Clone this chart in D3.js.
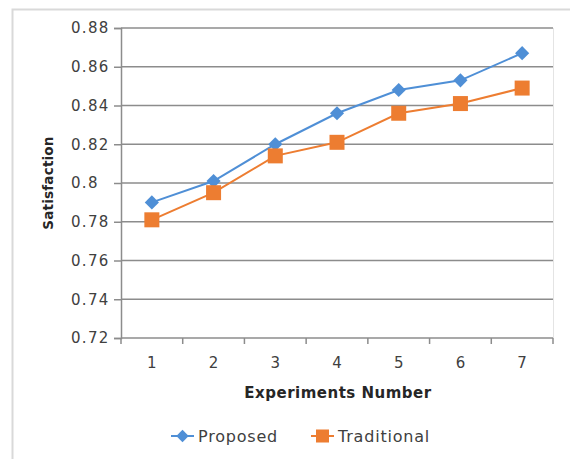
<!DOCTYPE html>
<html>
<head>
<meta charset="utf-8">
<script src="https://cdn.jsdelivr.net/npm/d3@7"></script>
<style>
  html, body { margin: 0; padding: 0; background: #fff; }
  svg { display: block; font-family: "DejaVu Sans", sans-serif; }
</style>
</head>
<body>
<svg id="chart" width="570" height="459"></svg>
<script>
// Experiment numbers on the x axis
const experiments = ["1", "2", "3", "4", "5", "6", "7"];
// Satisfaction per experiment for each method
const proposed = [0.790, 0.801, 0.820, 0.836, 0.848, 0.853, 0.867];
const traditional = [0.781, 0.795, 0.814, 0.821, 0.836, 0.841, 0.849];
// Y axis ticks
const yTicks = [0.72, 0.74, 0.76, 0.78, 0.80, 0.82, 0.84, 0.86, 0.88];

const seriesList = [
  { name: "Proposed", values: proposed, color: "#4F8FD6", shape: "diamond" },
  { name: "Traditional", values: traditional, color: "#ED7D31", shape: "square" }
];

const svg = d3.select("#chart");
const plot = { left: 121, right: 553, top: 28, bottom: 338 };
const textColor = "#404040";

// Outer chart frame (left and top edges)
svg.append("path")
  .attr("d", "M12.5,459 V9.5 H570")
  .attr("fill", "none")
  .attr("stroke", "#d9d9d9")
  .attr("stroke-width", 2);

const x = d3.scaleBand().domain(experiments).range([plot.left, plot.right]);
const y = d3.scaleLinear().domain([0.72, 0.88]).range([plot.bottom, plot.top]);

// Faint right edge of the plot area
svg.append("line")
  .attr("x1", plot.right + 0.5).attr("x2", plot.right + 0.5)
  .attr("y1", plot.top).attr("y2", plot.bottom)
  .attr("stroke", "#e4e4e4").attr("stroke-width", 1);

// Horizontal gridlines
svg.append("g")
  .selectAll("line")
  .data(yTicks.slice(1))
  .join("line")
  .attr("x1", plot.left).attr("x2", plot.right)
  .attr("y1", d => y(d)).attr("y2", d => y(d))
  .attr("stroke", "#8c8c8c").attr("stroke-width", 1.5);

// Y axis (labels aligned on their left edge)
const fmt = d => String(+d.toFixed(2));
const yAxis = svg.append("g")
  .attr("transform", `translate(${plot.left},0)`)
  .call(d3.axisLeft(y).tickValues(yTicks).tickFormat(fmt).tickSize(7).tickPadding(3));
yAxis.select(".domain").attr("stroke", "#8c8c8c").attr("stroke-width", 1.5);
yAxis.selectAll(".tick line").attr("stroke", "#8c8c8c").attr("stroke-width", 1.5);
yAxis.selectAll("text")
  .attr("x", -50)
  .attr("text-anchor", "start")
  .attr("fill", textColor)
  .attr("font-size", 15)
  .attr("letter-spacing", 1.3)
  .attr("font-family", "DejaVu Sans, sans-serif");

// X axis with ticks between categories
const xAxisG = svg.append("g").attr("transform", `translate(0,${plot.bottom})`);
xAxisG.append("line")
  .attr("x1", plot.left).attr("x2", plot.right)
  .attr("stroke", "#8c8c8c").attr("stroke-width", 1.5);
const boundaries = experiments.map(d => x(d)).concat([x(experiments[experiments.length - 1]) + x.bandwidth()]);
xAxisG.selectAll("line.tk")
  .data(boundaries)
  .join("line")
  .attr("class", "tk")
  .attr("x1", d => d).attr("x2", d => d)
  .attr("y1", 0).attr("y2", 6)
  .attr("stroke", "#8c8c8c").attr("stroke-width", 1.5);
xAxisG.selectAll("text")
  .data(experiments)
  .join("text")
  .attr("x", d => x(d) + x.bandwidth() / 2)
  .attr("y", 30)
  .attr("text-anchor", "middle")
  .attr("fill", textColor)
  .attr("font-size", 15)
  .text(d => d);

// Axis titles
svg.append("text")
  .attr("x", (plot.left + plot.right) / 2 + 1)
  .attr("y", 398)
  .attr("text-anchor", "middle")
  .attr("font-weight", "bold")
  .attr("font-size", 15)
  .attr("letter-spacing", 0.5)
  .attr("fill", "#262626")
  .text("Experiments Number");

svg.append("text")
  .attr("transform", `translate(53,${(plot.top + plot.bottom) / 2}) rotate(-90)`)
  .attr("text-anchor", "middle")
  .attr("font-weight", "bold")
  .attr("font-size", 13.5)
  .attr("letter-spacing", 0.2)
  .attr("fill", "#262626")
  .text("Satisfaction");

// Marker drawing
function marker(sel, shape, color, size) {
  if (shape === "diamond") {
    sel.append("path")
      .attr("d", d3.symbol(d3.symbolDiamond2, size * size * 0.5)())
      .attr("fill", color);
  } else {
    sel.append("rect")
      .attr("x", -size / 2).attr("y", -size / 2)
      .attr("width", size).attr("height", size)
      .attr("fill", color);
  }
}

// Lines and markers
const line = d3.line()
  .x((d, i) => x(experiments[i]) + x.bandwidth() / 2)
  .y(d => y(d));

seriesList.forEach(s => {
  svg.append("path")
    .datum(s.values)
    .attr("d", line)
    .attr("fill", "none")
    .attr("stroke", s.color)
    .attr("stroke-width", 2);
  svg.append("g")
    .selectAll("g")
    .data(s.values)
    .join("g")
    .attr("transform", (d, i) => `translate(${x(experiments[i]) + x.bandwidth() / 2},${y(d)})`)
    .each(function () {
      marker(d3.select(this), s.shape, s.color, s.shape === "diamond" ? 16 : 15);
    });
});

// Legend
const legend = svg.append("g").attr("transform", "translate(0,436)");
const legendItems = [
  { s: seriesList[0], x: 171 },
  { s: seriesList[1], x: 311 }
];
legendItems.forEach(({ s, x: lx }) => {
  const g = legend.append("g").attr("transform", `translate(${lx},0)`);
  g.append("line").attr("x1", 0).attr("x2", 23).attr("stroke", s.color).attr("stroke-width", 2);
  const m = g.append("g").attr("transform", "translate(11.5,0)");
  marker(m, s.shape, s.color, s.shape === "diamond" ? 14 : 13);
  g.append("text")
    .attr("x", 27).attr("y", 6)
    .attr("font-size", 16)
    .attr("letter-spacing", 0.8)
    .attr("fill", textColor)
    .text(s.name);
});
</script>
</body>
</html>
